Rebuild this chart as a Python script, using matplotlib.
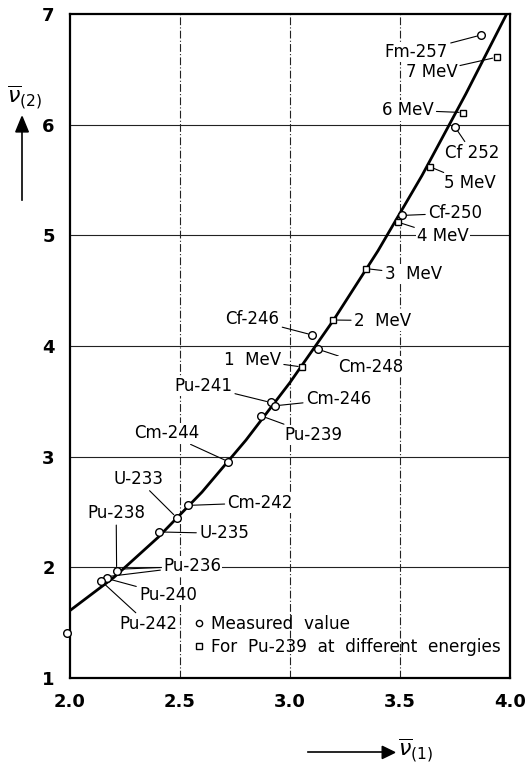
import numpy as np
import matplotlib.pyplot as plt
from matplotlib.lines import Line2D

plt.rcParams['font.family'] = ['DejaVu Sans']

# measured values (circles)
nuclides = ['Fm-257', 'Cf 252', 'Cf-250', 'Cf-246', 'Cm-248', 'Pu-241', 'Cm-246',
            'Pu-239', 'Cm-244', 'Cm-242', 'U-233', 'U-235', 'Pu-238', 'Pu-240',
            'Pu-242', 'U-238']
nu1_meas = [3.868, 3.75, 3.508, 3.101, 3.129, 2.912, 2.932, 2.868, 2.72, 2.538,
            2.485, 2.406, 2.212, 2.167, 2.14, 1.985]
nu2_meas = [6.81, 5.98, 5.18, 4.10, 3.97, 3.49, 3.46, 3.37, 2.955, 2.56,
            2.45, 2.32, 1.97, 1.90, 1.88, 1.41]

# Pu-239 at different energies (squares)
energies = ['1  MeV', '2  MeV', '3  MeV', '4 MeV', '5 MeV', '6 MeV', '7 MeV']
nu1_en = [3.056, 3.197, 3.344, 3.49, 3.636, 3.788, 3.94]
nu2_en = [3.81, 4.235, 4.70, 5.12, 5.62, 6.11, 6.61]

# Pu-236 label points to two spots on the curve
pu236_x = [2.241, 2.185]
pu236_y = [1.985, 1.92]

# curve
curve_x = [2.0, 2.2, 2.4, 2.6, 2.8, 3.0, 3.2, 3.4, 3.6, 3.8, 3.985]
curve_y = [1.61, 1.91, 2.27, 2.68, 3.15, 3.67, 4.24, 4.86, 5.54, 6.28, 7.0]

# label positions (text centres, data coords)
meas_text = {
    'Fm-257': (3.575, 6.657), 'Cf 252': (3.83, 5.744), 'Cf-250': (3.75, 5.20),
    'Cf-246': (2.83, 4.24), 'Cm-248': (3.368, 3.813), 'Pu-241': (2.606, 3.64),
    'Cm-246': (3.22, 3.52), 'Pu-239': (3.107, 3.196), 'Cm-244': (2.44, 3.21),
    'Cm-242': (2.864, 2.584), 'U-233': (2.31, 2.795), 'U-235': (2.70, 2.307),
    'Pu-238': (2.21, 2.488), 'Pu-240': (2.445, 1.75), 'Pu-242': (2.355, 1.488),
    'U-238': (2.235, 1.163),
}
en_text = {
    '1  MeV': (2.83, 3.873), '2  MeV': (3.42, 4.23), '3  MeV': (3.56, 4.65),
    '4 MeV': (3.695, 4.99), '5 MeV': (3.818, 5.47), '6 MeV': (3.536, 6.13),
    '7 MeV': (3.643, 6.476),
}

fig = plt.figure(figsize=(5.25, 7.67), dpi=100)
ax = fig.add_axes([0.1333, 0.116, 0.838, 0.8657])

ax.set_xlim(2.0, 4.0)
ax.set_ylim(1, 7)
ax.set_xticks([2.0, 2.5, 3.0, 3.5, 4.0])
ax.set_xticklabels(['2.0', '2.5', '3.0', '3.5', '4.0'])
ax.set_yticks([1, 2, 3, 4, 5, 6, 7])
ax.tick_params(length=0, labelsize=13, pad=11)
for lab in ax.get_xticklabels() + ax.get_yticklabels():
    lab.set_fontweight('bold')
for s in ax.spines.values():
    s.set_linewidth(1.6)

for xv in [2.5, 3.0, 3.5]:
    ax.axvline(xv, color='#222222', lw=0.8, ls=(0, (7, 2, 1, 2)), zorder=0)
for yv in [2, 3, 4, 5, 6]:
    ax.axhline(yv, color='#222222', lw=0.8, zorder=0)

ax.plot(curve_x, curve_y, color='black', lw=2, zorder=2)

arrow = dict(arrowstyle='-', lw=0.8, color='black', shrinkA=1, shrinkB=3)
box = dict(fc='white', ec='none', pad=1)

for name, x, y in zip(nuclides, nu1_meas, nu2_meas):
    ax.annotate(name, xy=(x, y), xytext=meas_text[name], ha='center', va='center',
                fontsize=12, bbox=box, arrowprops=arrow, zorder=3)
for name, x, y in zip(energies, nu1_en, nu2_en):
    ax.annotate(name, xy=(x, y), xytext=en_text[name], ha='center', va='center',
                fontsize=12, bbox=box, arrowprops=arrow, zorder=3)
for x, y in zip(pu236_x, pu236_y):
    ax.annotate('Pu-236', xy=(x, y), xytext=(2.555, 2.01), ha='center', va='center',
                fontsize=12, bbox=box, arrowprops=dict(arrow, shrinkB=0), zorder=3)

ax.plot(nu1_meas, nu2_meas, 'o', ms=5.5, mfc='white', mec='black', mew=1,
        zorder=4, clip_on=False)
ax.plot(nu1_en, nu2_en, 's', ms=5, mfc='white', mec='black', mew=1, zorder=4)

handles = [Line2D([], [], ls='none', marker='o', ms=4.5, mfc='white', mec='black'),
           Line2D([], [], ls='none', marker='s', ms=4.5, mfc='white', mec='black')]
ax.legend(handles, ['Measured  value', 'For  Pu-239  at  different  energies'],
          loc='upper left', bbox_to_anchor=(0.284, 0.095), frameon=False,
          fontsize=12.2, handlelength=0.5, handletextpad=0.45, labelspacing=0.32,
          borderpad=0, borderaxespad=0)

# axis labels with arrows
fig.text(0.047, 0.874, r'$\overline{\nu}_{(2)}$', fontsize=16, ha='center', va='center')
fig.add_artist(plt.Line2D([0.042, 0.042], [0.739, 0.835], color='black', lw=1.2))
fig.patches.append(plt.Polygon([[0.030, 0.828], [0.054, 0.828], [0.042, 0.848]],
                               closed=True, color='black', transform=fig.transFigure))
fig.add_artist(plt.Line2D([0.587, 0.735], [0.019, 0.019], color='black', lw=1.2))
fig.patches.append(plt.Polygon([[0.728, 0.011], [0.728, 0.027], [0.752, 0.019]],
                               closed=True, color='black', transform=fig.transFigure))
fig.text(0.758, 0.022, r'$\overline{\nu}_{(1)}$', fontsize=16, ha='left', va='center')

fig.savefig('out.png', dpi=100)
